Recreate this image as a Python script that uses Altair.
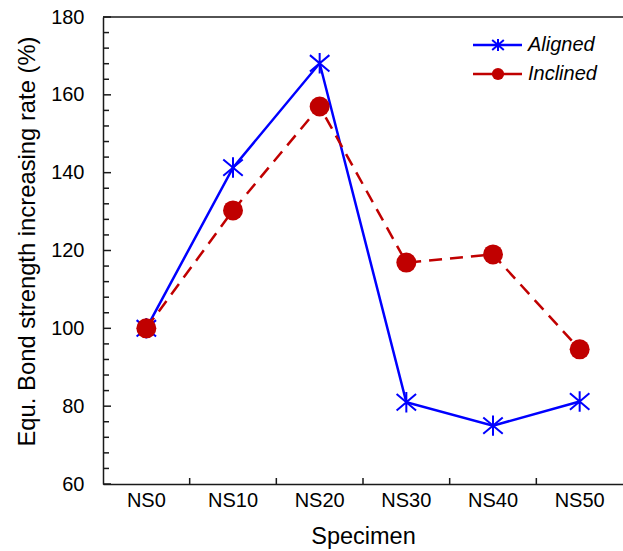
import altair as alt
import pandas as pd

# ---- data ----
specimens = ["NS0", "NS10", "NS20", "NS30", "NS40", "NS50"]
aligned = [100.0, 141.3, 168.1, 81.0, 75.0, 81.2]
inclined = [100.0, 130.3, 157.0, 116.9, 119.0, 94.6]
series_names = ["Aligned", "Inclined"]
series_colors = ["#0000FF", "#C00000"]
y_major = [60, 80, 100, 120, 140, 160, 180]
y_minor = [v for v in range(60, 181, 4) if v % 20 != 0]

W, H = 520, 467
FONT = "Liberation Sans"
AX = "#1a1a1a"

xscale = alt.Scale(type="band", domain=specimens, paddingInner=0, paddingOuter=0)
yscale = alt.Scale(domain=[60, 180], nice=False, zero=False)

df_a = pd.DataFrame({"Specimen": specimens, "Value": aligned})
df_i = pd.DataFrame({"Specimen": specimens, "Value": inclined})

xaxis = alt.Axis(title="Specimen", ticks=False, grid=False, domainColor=AX, domainWidth=1.5,
                 labelFont=FONT, labelFontSize=20, labelColor="black", labelPadding=6, labelAngle=0,
                 titleFont=FONT, titleFontSize=23.5, titleFontWeight="normal", titleColor="black",
                 titlePadding=14)
yaxis = alt.Axis(title="Equ. Bond strength increasing rate (%)", values=y_major, ticks=False, grid=False,
                 domainColor=AX, domainWidth=1.5,
                 labelFont=FONT, labelFontSize=20, labelColor="black", labelPadding=19,
                 titleFont=FONT, titleFontSize=23.8, titleFontWeight="normal", titleColor="black",
                 titleX=-69, titleY=224, titleBaseline="alphabetic", titleAlign="center", titleAngle=270)

x_enc = alt.X("Specimen:N", scale=xscale, sort=specimens, axis=xaxis)
y_enc = alt.Y("Value:Q", scale=yscale, axis=yaxis)

asterisk = "M0,-1V1M-0.95,-0.8L0.95,0.8M-0.95,0.8L0.95,-0.8"

line_a = alt.Chart(df_a).mark_line(color=series_colors[0], strokeWidth=2.5).encode(x=x_enc, y=y_enc)
pts_a = alt.Chart(df_a).mark_point(shape=asterisk, size=420, color=series_colors[0], strokeWidth=2,
                                   filled=False, opacity=1).encode(x=x_enc, y=y_enc)
line_i = alt.Chart(df_i).mark_line(color=series_colors[1], strokeWidth=2.5, strokeDash=[13, 8]).encode(
    x=x_enc, y=y_enc)
pts_i = alt.Chart(df_i).mark_point(shape="circle", size=400, color=series_colors[1], filled=True,
                                   opacity=1).encode(x=x_enc, y=y_enc)

# frame top
top = alt.Chart(pd.DataFrame({"Value": [180]})).mark_rule(color=AX, strokeWidth=1.5).encode(y=y_enc)

# inward ticks
ymaj = alt.Chart(pd.DataFrame({"Value": y_major})).mark_rule(color=AX, strokeWidth=1.5).encode(
    y=y_enc, x=alt.value(0), x2=alt.value(8))
ymin = alt.Chart(pd.DataFrame({"Value": y_minor})).mark_rule(color=AX, strokeWidth=1.5).encode(
    y=y_enc, x=alt.value(0), x2=alt.value(6))
xt = alt.Chart(pd.DataFrame({"Specimen": specimens[1:]})).mark_rule(color=AX, strokeWidth=1.5).encode(
    x=alt.X("Specimen:N", scale=xscale, sort=specimens, axis=xaxis, bandPosition=0),
    y=alt.value(H), y2=alt.value(H - 6))

# manual legend
leg_layers = []
for i, name in enumerate(series_names):
    ld = pd.DataFrame({"Series": [name]})
    yy = 28 + 29 * i
    rule = alt.Chart(ld).mark_rule(color=series_colors[i], strokeWidth=2.5).encode(
        x=alt.value(370), x2=alt.value(419), y=alt.value(yy))
    if i == 0:
        mk = alt.Chart(ld).mark_point(shape=asterisk, size=150, color=series_colors[i], strokeWidth=2,
                                      filled=False, opacity=1).encode(x=alt.value(395), y=alt.value(yy))
    else:
        mk = alt.Chart(ld).mark_point(shape="circle", size=150, color=series_colors[i], filled=True,
                                      opacity=1).encode(x=alt.value(395), y=alt.value(yy))
    tx = alt.Chart(ld).mark_text(font=FONT, fontSize=20, fontStyle="italic", align="left",
                                 baseline="middle", color="black").encode(
        x=alt.value(425), y=alt.value(yy), text="Series:N")
    leg_layers += [rule, mk, tx]

chart = alt.layer(line_a, pts_a, line_i, pts_i, top, ymaj, ymin, xt, *leg_layers).properties(
    width=W, height=H,
    autosize=alt.AutoSizeParams(type="none"),
    padding={"left": 103, "top": 17, "right": 0, "bottom": 67},
    background="white",
).configure_view(stroke=None)

chart.save("out.html", embed_options={"renderer": "svg", "actions": False})
